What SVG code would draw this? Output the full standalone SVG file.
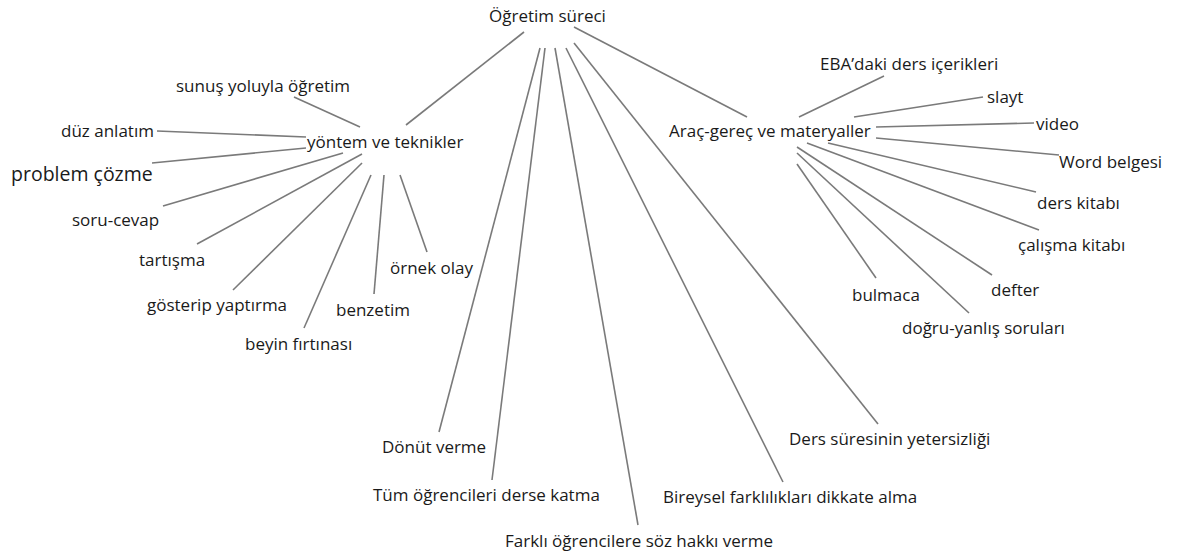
<svg xmlns="http://www.w3.org/2000/svg" width="1199" height="556" viewBox="0 0 1199 556">
<style>
text{font-family:"Open Sans","Noto Sans","DejaVu Sans",sans-serif;font-size:17px;fill:#1a1a1a}
.big{font-size:19.5px}
#connectors line{stroke:#7a7a7a;stroke-width:1.6;fill:none}
</style>
<rect width="1199" height="556" fill="#fff"/>
<g id="connectors">
<line x1="524" y1="32" x2="406" y2="125"/>
<line x1="294" y1="97" x2="360" y2="127"/>
<line x1="157" y1="131" x2="306" y2="137"/>
<line x1="152" y1="163" x2="306" y2="148"/>
<line x1="163" y1="206" x2="343" y2="153"/>
<line x1="197" y1="244" x2="362" y2="154"/>
<line x1="233" y1="290" x2="362" y2="163"/>
<line x1="304" y1="328" x2="371" y2="175"/>
<line x1="374" y1="294" x2="384" y2="175"/>
<line x1="427" y1="252" x2="400" y2="175"/>
<line x1="540" y1="48" x2="439" y2="432"/>
<line x1="545" y1="48" x2="492" y2="480"/>
<line x1="555" y1="48" x2="638" y2="525"/>
<line x1="566" y1="48" x2="783" y2="482"/>
<line x1="574" y1="43" x2="878" y2="424"/>
<line x1="574" y1="27" x2="747" y2="117"/>
<line x1="799" y1="117" x2="884" y2="76"/>
<line x1="854" y1="117" x2="983" y2="97"/>
<line x1="876" y1="127" x2="1034" y2="123"/>
<line x1="876" y1="138" x2="1059" y2="155"/>
<line x1="828" y1="143" x2="1036" y2="192"/>
<line x1="807" y1="143" x2="1039" y2="230"/>
<line x1="797" y1="147" x2="992" y2="275"/>
<line x1="797" y1="153" x2="969" y2="313"/>
<line x1="797" y1="164" x2="876" y2="278"/>
</g>
<g id="n-ogretim"><text x="489" y="22">Öğretim süreci</text></g>
<g id="n-yontem"><text x="307" y="148">yöntem ve teknikler</text></g>
<g id="n-sunus"><text x="176" y="92">sunuş yoluyla öğretim</text></g>
<g id="n-duz"><text x="61" y="137">düz anlatım</text></g>
<g id="n-problem"><text class="big" x="11" y="181">problem çözme</text></g>
<g id="n-soru"><text x="72" y="226">soru-cevap</text></g>
<g id="n-tartisma"><text x="139" y="266">tartışma</text></g>
<g id="n-gosterip"><text x="147" y="311">gösterip yaptırma</text></g>
<g id="n-benzetim"><text x="336" y="316">benzetim</text></g>
<g id="n-ornek"><text x="390" y="274">örnek olay</text></g>
<g id="n-beyin"><text x="245" y="350">beyin fırtınası</text></g>
<g id="n-donut"><text x="382" y="453">Dönüt verme</text></g>
<g id="n-tum"><text x="373" y="501">Tüm öğrencileri derse katma</text></g>
<g id="n-farkli"><text x="505" y="547">Farklı öğrencilere söz hakkı verme</text></g>
<g id="n-bireysel"><text x="663" y="503">Bireysel farklılıkları dikkate alma</text></g>
<g id="n-ders-suresi"><text x="789" y="445">Ders süresinin yetersizliği</text></g>
<g id="n-arac"><text x="669" y="137">Araç-gereç ve materyaller</text></g>
<g id="n-eba"><text x="820" y="70">EBA’daki ders içerikleri</text></g>
<g id="n-slayt"><text x="987" y="103">slayt</text></g>
<g id="n-video"><text x="1036" y="130">video</text></g>
<g id="n-word"><text x="1059" y="168">Word belgesi</text></g>
<g id="n-ders-kitabi"><text x="1037" y="209">ders kitabı</text></g>
<g id="n-calisma"><text x="1018" y="251">çalışma kitabı</text></g>
<g id="n-defter"><text x="991" y="296">defter</text></g>
<g id="n-bulmaca"><text x="852" y="301">bulmaca</text></g>
<g id="n-dogru"><text x="902" y="334">doğru-yanlış soruları</text></g>
</svg>
